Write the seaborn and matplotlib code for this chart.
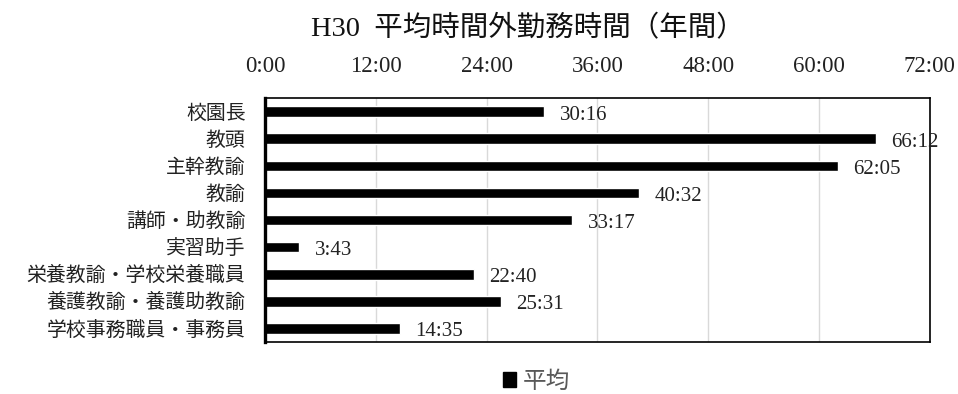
import pandas as pd
import seaborn as sns
import matplotlib.pyplot as plt
from matplotlib.patches import Patch

roles = ["校園長", "教頭", "主幹教諭", "教諭", "講師・助教諭", "実習助手",
         "栄養教諭・学校栄養職員", "養護教諭・養護助教諭", "学校事務職員・事務員"]
labels = ["30:16", "66:12", "62:05", "40:32", "33:17", "3:43", "22:40", "25:31", "14:35"]


def to_hours(s):
    h, m = s.split(":")
    return int(h) + int(m) / 60


hours = [to_hours(s) for s in labels]
df = pd.DataFrame({"role": roles, "hours": hours})

sns.set_theme(style="white")
plt.rcParams["font.family"] = ["Liberation Serif", "Noto Sans CJK JP"]

fig = plt.figure(figsize=(9.58, 3.94), dpi=100)
ax = fig.add_axes([0.2766, 0.132, 0.694, 0.619])
sns.barplot(data=df, x="hours", y="role", color="black", width=0.39,
            saturation=1, ax=ax, orient="h")

# value labels, a touch below the bar centre
for bar, lab in zip(ax.patches, labels):
    ax.annotate(lab, (bar.get_width(), bar.get_y() + bar.get_height() / 2),
                xytext=(11, -2.5), textcoords="offset points",
                ha="left", va="center", fontsize=15, color="#222222")

ax.set_xlim(0, 72)
ticks = list(range(0, 73, 12))
ax.set_xticks(ticks)
ax.set_xticklabels([f"{t}:00" for t in ticks], fontsize=16.5, color="#222222")
ax.xaxis.tick_top()
ax.tick_params(axis="x", length=0, pad=15)
ax.tick_params(axis="y", length=0, pad=14, labelsize=14.3, labelcolor="#222222")
ax.grid(axis="x", color="#d9d9d9", linewidth=1)
ax.set_axisbelow(True)
ax.set_xlabel("")
ax.set_ylabel("")
for sp in ax.spines.values():
    sp.set_visible(True)
    sp.set_color("black")
    sp.set_linewidth(1.2)
ax.spines["left"].set_linewidth(2.4)

fig.text(0.551, 0.926, "H30  平均時間外勤務時間（年間）", fontsize=20.5,
         ha="center", va="center", color="#111111")
fig.legend(handles=[Patch(color="black", label="平均")], loc="center",
           bbox_to_anchor=(0.56, 0.03), frameon=False, fontsize=17,
           handlelength=0.55, handleheight=0.55, handletextpad=0.3,
           labelcolor="#595959")

fig.savefig("out.png", dpi=100)
